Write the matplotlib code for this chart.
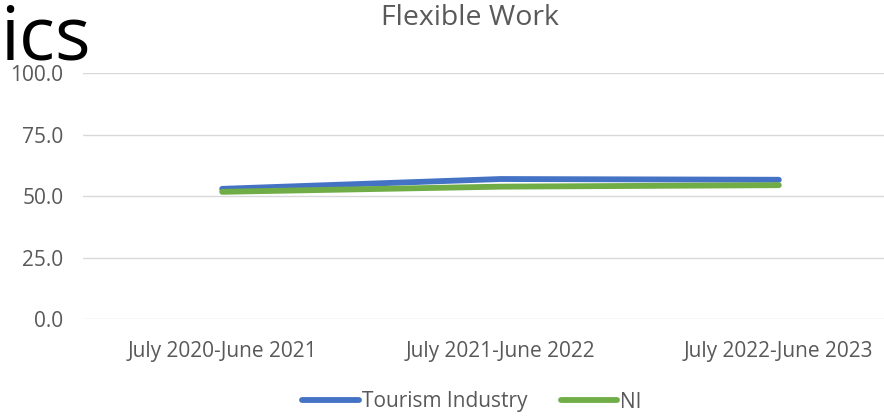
import matplotlib
matplotlib.use("Agg")
import matplotlib.pyplot as plt
from matplotlib.lines import Line2D

categories = ["July 2020-June 2021", "July 2021-June 2022", "July 2022-June 2023"]
tourism = [52.9, 56.9, 56.6]
ni = [51.7, 53.8, 54.4]
yticks = [0.0, 25.0, 50.0, 75.0, 100.0]

plt.rcParams['font.family'] = ['Open Sans', 'DejaVu Sans']

fig = plt.figure(figsize=(8.84, 4.18), dpi=100)
ax = fig.add_axes([83/884, 1-319/418, 835/884, (319-73)/418])

x = list(range(len(categories)))
ax.plot(x, tourism, color="#4472C4", lw=4.2, solid_capstyle="round", label="Tourism Industry")
ax.plot(x, ni, color="#70AD47", lw=4.2, solid_capstyle="round", label="NI")

ax.set_xlim(-0.5, 2.5)
ax.set_ylim(0, 100)
ax.set_yticks(yticks)
ax.set_yticklabels([f"{v:.1f}" for v in yticks])
ax.set_xticks(x)
ax.set_xticklabels(categories)
ax.tick_params(axis="both", length=0, labelsize=15, labelcolor="#595959")
ax.tick_params(axis="x", pad=16)
ax.tick_params(axis="y", pad=14)
ax.grid(axis="y", color="#D9D9D9", lw=1)
ax.set_axisbelow(True)
for s in ax.spines.values():
    s.set_visible(False)

fig.text(470/884, 1-18/418, "Flexible Work", ha="center", va="center", fontsize=20.5, color="#595959")
fig.text(0.0, 1-59/418, "ics", ha="left", va="baseline", fontsize=54, color="black")

handles = [Line2D([0], [0], color="#4472C4", lw=4.2, solid_capstyle="round"),
           Line2D([0], [0], color="#70AD47", lw=4.2, solid_capstyle="round")]
fig.legend(handles, ["Tourism Industry", "NI"], loc="center", bbox_to_anchor=(472/884, 1-402/418),
           ncol=2, frameon=False, fontsize=15, labelcolor="#595959", handlelength=2.7,
           handletextpad=0.15, columnspacing=1.6)

fig.savefig("out.png", dpi=100)
